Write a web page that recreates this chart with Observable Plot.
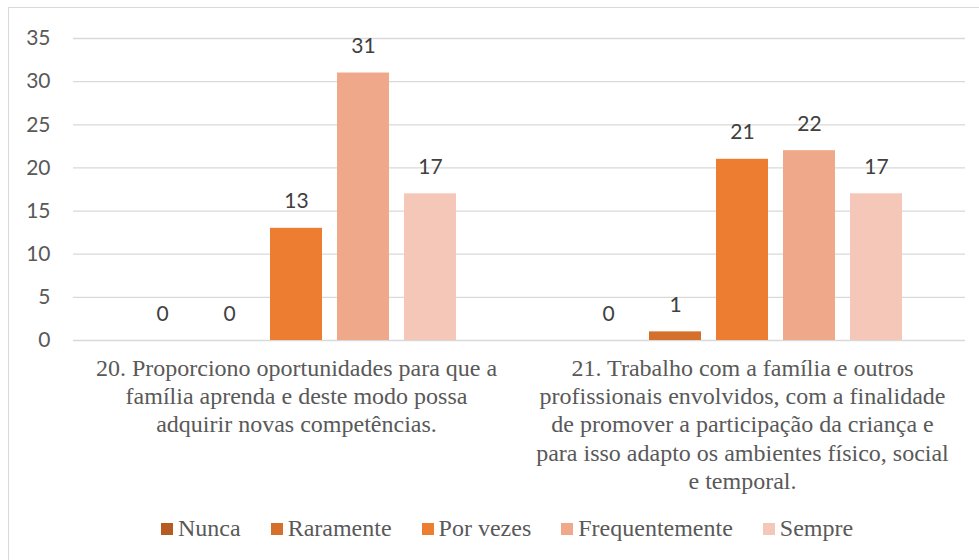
<!DOCTYPE html>
<html>
<head>
<meta charset="utf-8">
<script src="https://cdn.jsdelivr.net/npm/d3@7"></script>
<script src="https://cdn.jsdelivr.net/npm/@observablehq/plot@0.6"></script>
<style>
  html, body { margin: 0; padding: 0; background: #fff; }
  #wrap { position: relative; width: 979px; height: 560px; overflow: hidden; background: #fff; }
  #frame { position: absolute; left: 8px; top: 7px; width: 1000px; height: 600px; border-left: 1.5px solid #d9d9d9; border-top: 1.5px solid #d9d9d9; box-sizing: border-box; }
  #chart { position: absolute; left: 0; top: 0; }
  #legend { position: absolute; left: 161px; top: 515px; display: flex; align-items: center; font-family: 'Liberation Serif', 'Times New Roman', serif; font-size: 24px; color: #595959; white-space: nowrap; }
  .item { display: flex; align-items: center; margin-right: 30px; }
  .sw { width: 12px; height: 12px; margin-right: 5px; }
</style>
</head>
<body>
<div id="wrap">
  <div id="frame"></div>
  <div id="chart"></div>
  <div id="legend"></div>
</div>
<script>
const groups = [
  "20. Proporciono oportunidades para que a\nfamília aprenda e deste modo possa\nadquirir novas competências.",
  "21. Trabalho com a família e outros\nprofissionais envolvidos, com a finalidade\nde promover a participação da criança e\npara isso adapto os ambientes físico, social\ne temporal."
];
const series = ["Nunca", "Raramente", "Por vezes", "Frequentemente", "Sempre"];
const colors = ["#B65C22", "#D4702C", "#ED7D31", "#F0A88A", "#F5C7B8"];
const values20 = [0, 0, 13, 31, 17];
const values21 = [0, 1, 21, 22, 17];
const yTicks = [0, 5, 10, 15, 20, 25, 30, 35];

const data = [];
series.forEach((s, i) => {
  data.push({group: groups[0], series: s, value: values20[i]});
  data.push({group: groups[1], series: s, value: values21[i]});
});

const SERIF = "'Liberation Serif', 'Times New Roman', serif";

const chart = Plot.plot({
  width: 979,
  height: 500,
  marginLeft: 73,
  marginRight: 14,
  marginTop: 38,
  marginBottom: 160,
  style: {fontFamily: "Lato, sans-serif", fontSize: "21px", color: "#595959", background: "transparent", overflow: "visible"},
  fx: {domain: groups, padding: 0, axis: null, label: null},
  x: {domain: series, paddingInner: 0.22, paddingOuter: 0.89, axis: null, label: null},
  y: {domain: [0, 35], axis: null, label: null},
  color: {domain: series, range: colors},
  marks: [
    Plot.gridY(yTicks, {stroke: "#d9d9d9", strokeOpacity: 1, strokeWidth: 1.3}),
    Plot.axisY(yTicks, {tickSize: 0, tickPadding: 23, fill: "#595959", fontSize: 21, label: null}),
    Plot.barY(data, {fx: "group", x: "series", y: "value", fill: "series"}),
    Plot.text(data, {fx: "group", x: "series", y: "value", text: d => String(d.value), lineAnchor: "bottom", dy: -20, fill: "#404040", fontSize: 21}),
    Plot.axisFx({anchor: "bottom", tickSize: 0, tickPadding: 15, fill: "#595959", fontSize: 24, fontFamily: SERIF, lineHeight: 1.18, label: null})
  ]
});
document.getElementById("chart").appendChild(chart);
chart.querySelectorAll("g[aria-label='fx-axis tick label']").forEach(el => {
  el.setAttribute("font-family", SERIF);
});

const legend = document.getElementById("legend");
series.forEach((s, i) => {
  const it = document.createElement("div");
  it.className = "item";
  const sw = document.createElement("div");
  sw.className = "sw";
  sw.style.background = colors[i];
  const t = document.createElement("span");
  t.textContent = s;
  it.appendChild(sw);
  it.appendChild(t);
  legend.appendChild(it);
});
</script>
</body>
</html>
